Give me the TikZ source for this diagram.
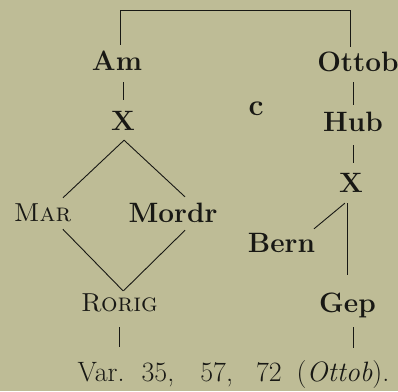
\documentclass[tikz,border=0pt]{standalone}
\usepackage{fontspec}
\usepackage{tikz}
\usetikzlibrary{positioning}
\definecolor{paper}{RGB}{190,188,150}
\definecolor{ink}{RGB}{24,24,20}

\begin{document}
\begin{tikzpicture}[
    x=1pt, y=-1pt,
    ms/.style={
        inner sep=0pt, text height=20pt, text depth=0pt, text=ink,
        font=\fontsize{28}{30}\selectfont\bfseries\addfontfeature{FakeStretch=0.9,FakeBold=1.2}
    },
    msc/.style={ms, text height=18pt,
        font=\fontsize{26}{28}\selectfont\scshape\addfontfeature{FakeStretch=0.92,FakeBold=0.6}},
    link/.style={draw=ink, line width=0.9pt},
]

% Page
\fill[paper] (0,0) rectangle (398,391);
\useasboundingbox (0,0) rectangle (398,391);

% Manuscripts
\node[ms] (am)    at (117,60)    {Am};
\node[ms] (ottob) at (358,61)    {Ottob};
\node[ms] (xl)    at (123,120)   {X};
\node[ms] (hub)   at (353,121)   {Hub};
\node[ms] (xr)    at (351,182)   {X};
\node[msc] (mar)  at (42.5,212.5) {Mar};
\node[ms] (mordr) at (173,212.5) {Mordr};
\node[ms] (bern)  at (281.5,242) {Bern};
\node[msc] (rorig) at (119.5,302.5) {Rorig};
\node[ms] (gep)   at (347.5,302.5) {Gep};
\node[ms, text height=13pt, font=\fontsize{30}{32}\selectfont\bfseries]
    (mark) at (256,109) {c};

% Readings
\node[ms, font=\fontsize{28}{30}\selectfont\addfontfeature{FakeBold=0.5}] (var) at (233.5,371)
    {Var.\hspace{17pt}35,\hspace{26pt}57,\hspace{23pt}72\hspace{15pt}(\textit{Ottob}).};

% Bracket over Am and Ottob
\coordinate (tl) at (120,10);
\coordinate (tr) at (350,10);
\draw[link, shorten <=5pt, shorten >=4pt]
    (am.north -| tl) -- (tl) -- (tr) -- (ottob.north -| tr);

% Left branch
\draw[link, shorten <=12pt, shorten >=10pt] (am.south -| xl) -- (xl.north);
\draw[link, shorten <=14.6pt, shorten >=8.1pt]
    ([xshift=11.7pt]xl.south) -- ([xshift=14.6pt]mar.north);
\draw[link, shorten <=14.6pt, shorten >=8.1pt]
    ([xshift=-9.7pt]xl.south) -- ([xshift=17.9pt]mordr.north);
\draw[link, shorten <=10.6pt, shorten >=3.5pt]
    ([xshift=13pt]mar.south) -- ([xshift=6pt]rorig.north);
\draw[link, shorten <=10.7pt, shorten >=3.5pt]
    ([xshift=19.7pt]mordr.south) -- ([xshift=1.4pt]rorig.north);
\draw[link, shorten <=15.5pt, shorten >=14pt]
    (rorig.south) -- (rorig.south |- var.north);

% Right branch
\draw[link, shorten <=11pt, shorten >=6pt] (ottob.south -| hub) -- (hub.north);
\draw[link, shorten <=14pt, shorten >=9pt] (hub.south) -- (hub.south |- xr.north);
\draw[link, shorten <=17.1pt, shorten >=4.7pt]
    ([xshift=7.1pt]xr.south) -- ([xshift=28.9pt]bern.north);
\draw[link, shorten <=11pt, shorten >=17.5pt]
    ([xshift=-4pt]xr.south) -- ([xshift=-4pt]xr.south |- gep.north);
\draw[link, shorten <=14.5pt, shorten >=13pt]
    ([xshift=5.5pt]gep.south) -- ([xshift=5.5pt]gep.south |- var.north);

\end{tikzpicture}
\end{document}
